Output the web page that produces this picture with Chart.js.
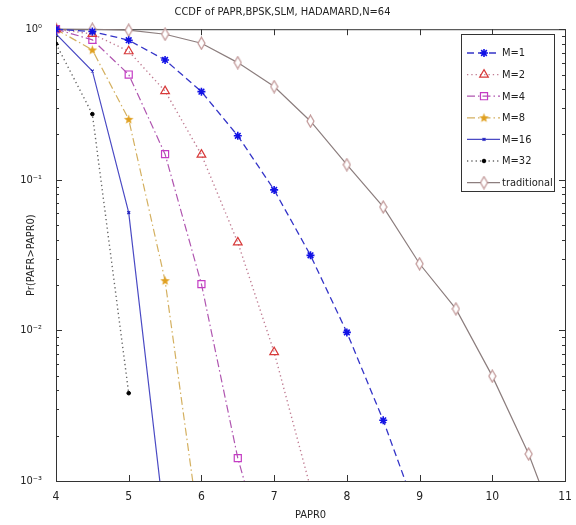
<!DOCTYPE html>
<html>
<head>
<meta charset="utf-8">
<script src="https://cdn.jsdelivr.net/npm/chart.js@4.4.1/dist/chart.umd.min.js"></script>
<style>
  html, body { margin: 0; padding: 0; background: #fff; }
  #wrap { width: 576px; height: 525px; }
</style>
</head>
<body>
<div id="wrap"><canvas id="c" width="576" height="525"></canvas></div>
<script>
// PAPR0 (dB) sample points
const papr = [4, 4.5, 5, 5.5, 6, 6.5, 7, 7.5, 8, 8.5, 9, 9.5, 10, 10.5, 11];

// CCDF values
const m1 = [1, 0.965, 0.845, 0.625, 0.385, 0.196, 0.0857, 0.0315, 0.0097, 0.00253, 0.00055];
const m2 = [1, 0.93, 0.714, 0.388, 0.147, 0.0384, 0.00717, 0.0009];
const m4 = [1, 0.85, 0.50, 0.148, 0.0203, 0.00142, 0.0002];
const m8 = [1, 0.728, 0.252, 0.0214, 0.00038];
const m16 = [0.93, 0.528, 0.0605, 0.0005];
const m32 = [0.8, 0.273, 0.00383];
const trad = [1, 0.999, 0.985, 0.926, 0.807, 0.60, 0.416, 0.245, 0.126, 0.066, 0.0277, 0.0139, 0.00497, 0.00151, 0.00035];

const xTicks = [4, 5, 6, 7, 8, 9, 10, 11];
const yTicks = [0.001, 0.01, 0.1, 1];
const yTickLabels = ["10\u207B\u00B3", "10\u207B\u00B2", "10\u207B\u00B9", "10\u2070"];

const FONT = '"Liberation Sans Narrow", "DejaVu Sans Condensed", "Liberation Sans", sans-serif';

// marker images for pentagram and tall diamond
function pentagram(color) {
  const c = document.createElement("canvas");
  c.width = 11; c.height = 11;
  const g = c.getContext("2d");
  g.beginPath();
  for (let i = 0; i < 10; i++) {
    const r = i % 2 === 0 ? 5 : 2.1;
    const a = -Math.PI / 2 + i * Math.PI / 5;
    const px = 5.5 + r * Math.cos(a), py = 5.8 + r * Math.sin(a);
    if (i === 0) g.moveTo(px, py); else g.lineTo(px, py);
  }
  g.closePath();
  g.fillStyle = color;
  g.fill();
  return c;
}
function diamond(color) {
  const c = document.createElement("canvas");
  c.width = 9; c.height = 14;
  const g = c.getContext("2d");
  g.beginPath();
  g.moveTo(4.5, 1); g.lineTo(8, 7); g.lineTo(4.5, 13); g.lineTo(1, 7);
  g.closePath();
  g.fillStyle = "#fff";
  g.fill();
  g.strokeStyle = color;
  g.lineWidth = 1.2;
  g.stroke();
  return c;
}

function pts(vals) {
  return vals.map((v, i) => ({ x: papr[i], y: v }));
}

const series = [
  { label: "M=1", data: m1, line: "#3535c8", point: "#1212e6", dash: [7, 4], style: "star", radius: 4, pw: 1.6, lw: 1.3 },
  { label: "M=2", data: m2, line: "#c07c92", point: "#d83a3a", dash: [1.3, 3], style: "triangle", radius: 5, pw: 1.2, lw: 1.4 },
  { label: "M=4", data: m4, line: "#b056b0", point: "#c43cc4", dash: [8, 3, 1.5, 3], style: "rect", radius: 5, pw: 1.2, lw: 1.2 },
  { label: "M=8", data: m8, line: "#d4b060", point: "#d9a030", dash: [8, 3, 1.5, 3], style: pentagram("#e0a020"), radius: 4, pw: 1, lw: 1.2 },
  { label: "M=16", data: m16, line: "#4a4ac4", point: "#2020c0", dash: [], style: "crossRot", radius: 2, pw: 1.2, lw: 1.2 },
  { label: "M=32", data: m32, line: "#666666", point: "#000000", dash: [1.3, 3], style: "circle", radius: 1.8, pw: 1, lw: 1.4 },
  { label: "traditional", data: trad, line: "#8c7e7e", point: "#c09898", dash: [], style: diamond("#bf9494"), radius: 4, pw: 1, lw: 1.2 }
];

const datasets = series.map(s => ({
  label: s.label,
  data: pts(s.data),
  borderColor: s.line,
  borderWidth: s.lw,
  borderDash: s.dash,
  pointStyle: s.style,
  pointRadius: s.radius,
  pointBorderColor: s.point,
  pointBackgroundColor: s.style === "circle" ? s.point : "rgba(0,0,0,0)",
  pointBorderWidth: s.pw,
  fill: false,
  tension: 0,
  clip: { left: 0, right: 0, top: 10, bottom: 0 }
}));

// box around the axes with inner tick marks, MATLAB style
const axesBox = {
  id: "axesBox",
  beforeDatasetsDraw(chart) {
    const { ctx, chartArea: a, scales } = chart;
    ctx.save();
    ctx.strokeStyle = "#333";
    ctx.lineWidth = 1;
    ctx.strokeRect(a.left + 0.5, a.top + 0.5, a.right - a.left, a.bottom - a.top);
    ctx.beginPath();
    xTicks.forEach(t => {
      const px = Math.round(scales.x.getPixelForValue(t)) + 0.5;
      ctx.moveTo(px, a.bottom); ctx.lineTo(px, a.bottom - 6);
      ctx.moveTo(px, a.top); ctx.lineTo(px, a.top + 6);
    });
    for (let e = -3; e < 0; e++) {
      for (let k = 1; k <= 10; k++) {
        const v = k * Math.pow(10, e);
        const py = Math.round(scales.y.getPixelForValue(v)) + 0.5;
        const len = (k === 1 || k === 10) ? 6 : 3;
        ctx.moveTo(a.left, py); ctx.lineTo(a.left + len, py);
        ctx.moveTo(a.right, py); ctx.lineTo(a.right - len, py);
      }
    }
    ctx.stroke();
    ctx.restore();
  }
};

// legend box in the upper right
const boxLegend = {
  id: "boxLegend",
  afterDraw(chart) {
    const ctx = chart.ctx;
    const x0 = 461, y0 = 34, w = 93, h = 157;
    ctx.save();
    ctx.fillStyle = "#fff";
    ctx.fillRect(x0, y0, w, h);
    ctx.strokeStyle = "#333";
    ctx.lineWidth = 1;
    ctx.strokeRect(x0 + 0.5, y0 + 0.5, w, h);
    ctx.font = "11px " + FONT;
    ctx.textBaseline = "middle";
    chart.data.datasets.forEach((ds, i) => {
      const y = y0 + 19 + i * 21.6;
      ctx.strokeStyle = ds.borderColor;
      ctx.lineWidth = ds.borderWidth;
      ctx.setLineDash(ds.borderDash);
      ctx.beginPath();
      ctx.moveTo(467, y); ctx.lineTo(500, y);
      ctx.stroke();
      ctx.setLineDash([]);
      if (Chart.helpers && Chart.helpers.drawPoint) {
        ctx.strokeStyle = ds.pointBorderColor;
        ctx.fillStyle = ds.pointBackgroundColor;
        ctx.lineWidth = ds.pointBorderWidth;
        Chart.helpers.drawPoint(ctx, { pointStyle: ds.pointStyle, radius: ds.pointRadius, rotation: 0, borderWidth: ds.pointBorderWidth }, 484, y);
      }
      ctx.fillStyle = "#222";
      ctx.fillText(ds.label, 502, y + 0.5);
    });
    ctx.restore();
  }
};

new Chart(document.getElementById("c"), {
  type: "line",
  data: { datasets: datasets },
  options: {
    responsive: false,
    animation: false,
    layout: { padding: { left: 0, right: 11, top: 0, bottom: 0 } },
    plugins: {
      legend: { display: false },
      tooltip: { enabled: false },
      title: {
        display: true,
        text: "CCDF of PAPR,BPSK,SLM, HADAMARD,N=64",
        color: "#222",
        font: { family: FONT, size: 11, weight: "normal" },
        padding: { top: 6, bottom: 10 }
      }
    },
    scales: {
      x: {
        type: "linear",
        min: 4,
        max: 11,
        afterFit: s => { s.height = 44; },
        afterBuildTicks: s => { s.ticks = xTicks.map(v => ({ value: v })); },
        grid: { display: false },
        border: { display: false },
        ticks: { color: "#222", padding: 1, font: { family: FONT, size: 12 }, maxRotation: 0 },
        title: { display: true, text: "PAPR0", color: "#222", font: { family: FONT, size: 11 }, padding: { top: 0, bottom: 3 } }
      },
      y: {
        type: "logarithmic",
        min: 0.001,
        max: 1,
        afterFit: s => { s.width = 56; },
        afterBuildTicks: s => { s.ticks = yTicks.map(v => ({ value: v })); },
        grid: { display: false },
        border: { display: false },
        ticks: {
          color: "#222",
          padding: 6,
          font: { family: FONT, size: 11 },
          callback: (v) => yTickLabels[yTicks.findIndex(t => Math.abs(t - v) < v * 1e-6)] || ""
        },
        title: { display: true, text: "Pr(PAFR>PAPR0)", color: "#222", font: { family: FONT, size: 11 }, padding: { top: 25, bottom: 0 } }
      }
    }
  },
  plugins: [axesBox, boxLegend]
});
</script>
</body>
</html>
